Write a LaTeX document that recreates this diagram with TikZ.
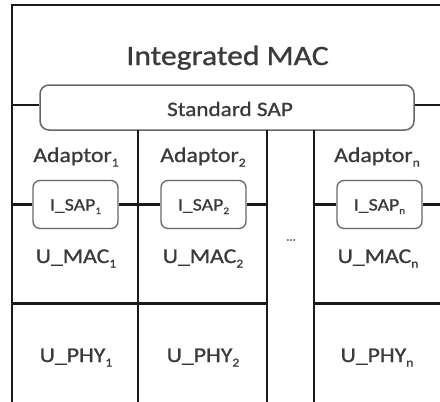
\documentclass[tikz,border=0pt]{standalone}
\usepackage{fontspec}
\setmainfont{Carlito}[FakeStretch=1.13, FakeBold=0.9]
\definecolor{txt}{HTML}{3A3A3A}
\definecolor{ln}{HTML}{1A1A1A}
\definecolor{bx}{HTML}{666666}
\newcommand\subm[1]{\raisebox{-4.5pt}{\fontsize{12}{12}\selectfont #1}}
\newcommand\subs[1]{\raisebox{-3.5pt}{\fontsize{10}{10}\selectfont #1}}
\begin{document}
\begin{tikzpicture}[x=1pt,y=-1pt,
  frame/.style={draw=ln, line width=2.2pt},
  stdbox/.style={draw=bx, line width=1.5pt, rounded corners=9pt, fill=white, minimum width=374pt, minimum height=45pt, inner sep=0pt},
  isapbox/.style={draw=bx, line width=1.3pt, rounded corners=7pt, fill=white, minimum width=85pt, minimum height=48pt, inner sep=0pt},
  lbl/.style={text=txt, anchor=base, inner sep=0pt},
  big/.style={font=\fontsize{28}{28}\selectfont},
  mid/.style={font=\fontsize{21}{21}\selectfont},
  stdf/.style={font=\fontsize{20.5}{20.5}\selectfont},
  small/.style={font=\fontsize{17.5}{17.5}\selectfont},
]
\useasboundingbox (0,0) rectangle (440,402);
\fill[white] (0,0) rectangle (440,402);

% frame
\coordinate (tl) at (12,5);
\coordinate (br) at (441.5,402.6);
\draw[frame] (tl) rectangle (br);

% standard SAP
\node[stdbox] (std) at (227,107.5) {};
\coordinate (sl) at (12,105);
\coordinate (sr) at (441,105);
\draw[frame] (sl) -- (std.west |- sl);
\draw[frame] (std.east |- sr) -- (sr);

% vertical column separators
\coordinate (v1t) at (138,130); \coordinate (v1b) at (138,403);
\coordinate (v2t) at (267,130); \coordinate (v2b) at (267,403);
\coordinate (v3t) at (314,130); \coordinate (v3b) at (314,403);
\draw[frame] (v1t) -- (v1b);
\draw[frame] (v2t) -- (v2b);
\draw[frame] (v3t) -- (v3b);

% horizontal MAC/PHY separators
\coordinate (h1l) at (12,303.5); \coordinate (h1r) at (267,303.5);
\coordinate (h2l) at (314,303.5); \coordinate (h2r) at (441,303.5);
\draw[frame] (h1l) -- (h1r);
\draw[frame] (h2l) -- (h2r);

% I_SAP boxes and lines
\node[isapbox] (is1) at (75.5,204.5) {};
\node[isapbox] (is2) at (203.5,204.5) {};
\node[isapbox] (isn) at (379.5,204.5) {};
\coordinate (i0) at (12,204.5);
\coordinate (i1) at (138,204.5);
\coordinate (i2) at (267,204.5);
\coordinate (i3) at (314,204.5);
\coordinate (i4) at (441,204.5);
\draw[frame] (i0) -- (is1.west);
\draw[frame] (is1.east) -- (i1);
\draw[frame] (i1) -- (is2.west);
\draw[frame] (is2.east) -- (i2);
\draw[frame] (i3) -- (isn.west);
\draw[frame] (isn.east) -- (i4);

% texts
\node[lbl, big] (title) at (227.5,65) {Integrated MAC};
\node[lbl, stdf] (stdt) at (230,116) {Standard SAP};

\node[lbl, mid] (ad1) at (76,162) {Adaptor\subm{1}};
\node[lbl, mid] (ad2) at (203,162) {Adaptor\subm{2}};
\node[lbl, mid] (adn) at (377,162) {Adaptor\subm{n}};

\node[lbl, small] (is1t) at (75.5,210.5) {I\_SAP\subs{1}};
\node[lbl, small] (is2t) at (203.5,210.5) {I\_SAP\subs{2}};
\node[lbl, small] (isnt) at (379.5,210.5) {I\_SAP\subs{n}};

\node[lbl, mid] (m1) at (76,263) {U\_MAC\subm{1}};
\node[lbl, mid] (m2) at (203,263) {U\_MAC\subm{2}};
\node[lbl, mid] (mn) at (378,263) {U\_MAC\subm{n}};

\node[lbl, mid] (p1) at (76,362) {U\_PHY\subm{1}};
\node[lbl, mid] (p2) at (203,362) {U\_PHY\subm{2}};
\node[lbl, mid] (pn) at (377,362) {U\_PHY\subm{n}};

\node[text=txt, inner sep=0pt, font=\fontsize{11}{11}\selectfont] (dots) at (291,240) {...};
\end{tikzpicture}
\end{document}
